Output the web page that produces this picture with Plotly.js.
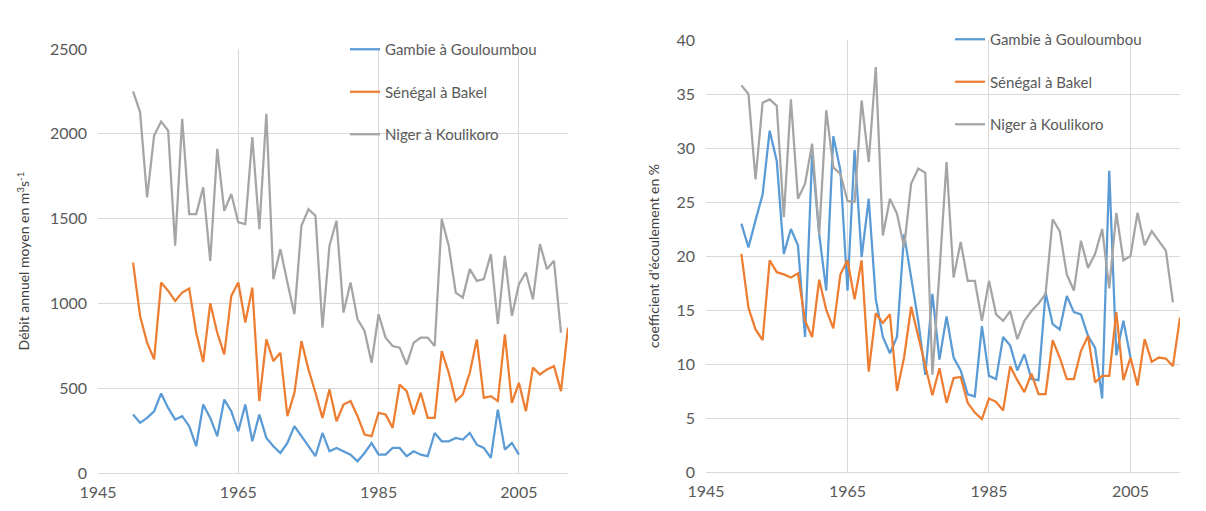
<!DOCTYPE html>
<html><head><meta charset="utf-8">
<script src="https://cdn.plot.ly/plotly-3.0.1.min.js"></script>
<style>html,body{margin:0;padding:0;background:#fff}#chart{width:1206px;height:511px}</style>
</head><body><div id="chart"></div>
<script>
// ---- data ----
const years = [1950,1951,1952,1953,1954,1955,1956,1957,1958,1959,
  1960,1961,1962,1963,1964,1965,1966,1967,1968,1969,
  1970,1971,1972,1973,1974,1975,1976,1977,1978,1979,
  1980,1981,1982,1983,1984,1985,1986,1987,1988,1989,
  1990,1991,1992,1993,1994,1995,1996,1997,1998,1999,
  2000,2001,2002,2003,2004,2005,2006,2007,2008,2009,
  2010,2011,2012];
const seriesNames = ["Gambie à Gouloumbou", "Sénégal à Bakel", "Niger à Koulikoro"];

// Left: mean annual discharge (m3/s)
const gambieDebit = [345,296,325,364,469,384,315,335,276,158,
  404,325,217,433,364,246,404,187,345,207,
  158,118,177,276,217,158,99,236,128,148,
  128,108,69,118,177,108,108,148,148,99,
  128,108,99,236,187,187,207,197,236,167,
  148,89,374,138,177,108];
const senegalDebit = [1241,926,768,670,1123,1074,1015,1064,1087,827,
  654,1001,827,699,1044,1123,887,1093,424,788,
  660,709,335,473,778,611,473,325,493,305,
  404,424,335,227,217,355,345,266,522,483,
  345,473,325,325,719,591,424,463,591,788,
  443,453,424,818,414,532,364,621,581,611,
  630,483,857];
const nigerDebit = [2250,2128,1625,1990,2072,2019,1340,2088,1527,1527,
  1684,1251,1911,1546,1645,1478,1468,1980,1438,2118,
  1143,1320,1123,936,1458,1556,1517,857,1340,1487,
  946,1123,906,837,650,936,798,749,739,640,
  768,798,798,749,1497,1340,1064,1034,1202,1133,
  1143,1290,877,1280,926,1113,1182,1024,1350,1202,
  1251,827];

// Right: runoff coefficient (%)
const gambieCoef = [23.0,20.8,23.3,25.7,31.6,28.8,20.2,22.5,21.0,12.5,
  29.4,22.0,16.8,31.1,27.9,16.8,29.8,19.9,25.3,16.0,
  12.5,11.0,12.5,22.0,18.0,14.0,9.0,16.5,10.4,14.4,
  10.6,9.4,7.2,7.0,13.5,8.9,8.6,12.5,11.7,9.4,
  10.9,8.6,8.5,16.6,13.7,13.2,16.3,14.8,14.6,12.6,
  11.5,6.8,27.9,10.8,14.0,10.6];
const senegalCoef = [20.2,15.2,13.2,12.2,19.6,18.5,18.3,18.0,18.4,14.0,
  12.5,17.8,15.0,13.3,18.3,19.6,16.0,19.6,9.3,14.7,
  13.8,14.6,7.5,10.6,15.3,12.5,10.0,7.1,9.6,6.4,
  8.7,8.8,6.4,5.5,4.9,6.8,6.5,5.7,9.8,8.5,
  7.4,9.1,7.2,7.2,12.2,10.6,8.6,8.6,11.2,12.6,
  8.3,8.9,8.9,14.8,8.5,10.6,8.0,12.3,10.2,10.6,
  10.5,9.8,14.3];
const nigerCoef = [35.8,35.0,27.1,34.2,34.5,33.9,23.6,34.5,25.3,26.7,
  30.4,22.0,33.5,28.2,27.6,25.1,25.0,34.4,28.7,37.5,
  21.9,25.3,23.9,20.8,26.7,28.1,27.7,9.0,18.5,28.7,
  18.0,21.3,17.7,17.7,14.0,17.7,14.6,14.0,14.9,12.3,
  14.0,14.9,15.6,16.5,23.4,22.3,18.3,16.8,21.4,18.9,
  20.2,22.5,17.0,24.0,19.6,20.0,24.0,21.0,22.3,21.4,
  20.5,15.7];

const xTickVals = [1945, 1965, 1985, 2005];
const colors = ['#5B9BD5', '#ED7D31', '#A5A5A5'];

// ---- figure ----
const W = 1206, H = 511;
const FONT = 'Lato, "Liberation Sans", sans-serif';
function tr(vals, i, xa, ya, leg) {
  return {
    x: years.slice(0, vals.length), y: vals, type: 'scatter', mode: 'lines',
    name: seriesNames[i], line: {color: colors[i], width: 2.25},
    xaxis: xa, yaxis: ya, legend: leg, legendgroup: leg + i, hoverinfo: 'x+y+name'
  };
}
const data = [
  tr(gambieDebit, 0, 'x', 'y', 'legend'),
  tr(senegalDebit, 1, 'x', 'y', 'legend'),
  tr(nigerDebit, 2, 'x', 'y', 'legend'),
  tr(gambieCoef, 0, 'x2', 'y2', 'legend2'),
  tr(senegalCoef, 1, 'x2', 'y2', 'legend2'),
  tr(nigerCoef, 2, 'x2', 'y2', 'legend2')
];

const tickFont = {family: FONT, size: 16, color: '#595959'};
const xCommon = {range: [1945, 2012], tickvals: xTickVals, showgrid: true, gridcolor: '#d9d9d9', gridwidth: 1,
  showline: true, linecolor: '#d9d9d9', linewidth: 1, zeroline: false, ticks: '', tickfont: tickFont,
  ticklabelstandoff: 5, fixedrange: true};
const yCommon = {showgrid: true, gridcolor: '#d9d9d9', gridwidth: 1, zeroline: false, ticks: '',
  showline: false, tickfont: tickFont, ticklabelstandoff: 10, fixedrange: true};
const legCommon = {xanchor: 'left', yanchor: 'top', traceorder: 'grouped', tracegroupgap: 20,
  bgcolor: 'rgba(0,0,0,0)', font: {family: FONT, size: 15, color: '#595959'}};

const layout = {
  width: W, height: H, margin: {l: 0, r: 0, t: 0, b: 0},
  paper_bgcolor: '#ffffff', plot_bgcolor: '#ffffff',
  font: {family: FONT, size: 14, color: '#595959'},
  showlegend: true,
  xaxis: Object.assign({}, xCommon, {domain: [98 / W, 568 / W], anchor: 'y'}),
  yaxis: Object.assign({}, yCommon, {domain: [1 - 473 / H, 1 - 49 / H], range: [0, 2500], dtick: 500, anchor: 'x',
    title: {text: 'Débit annuel moyen en m<sup>3</sup>s<sup>-1</sup>', standoff: 16,
      font: {family: FONT, size: 14, color: '#404040'}}}),
  xaxis2: Object.assign({}, xCommon, {domain: [706 / W, 1180 / W], anchor: 'y2'}),
  yaxis2: Object.assign({}, yCommon, {domain: [1 - 472 / H, 1 - 40 / H], range: [0, 40], dtick: 5, anchor: 'x2',
    title: {text: "coefficient d'écoulement en %", standoff: 13,
      font: {family: FONT, size: 14, color: '#404040'}}}),
  legend: Object.assign({}, legCommon, {x: 345 / W, y: 1 - 33 / H}),
  legend2: Object.assign({}, legCommon, {x: 950 / W, y: 1 - 23 / H})
};

Plotly.newPlot('chart', data, layout, {displayModeBar: false, staticPlot: true});
</script></body></html>
